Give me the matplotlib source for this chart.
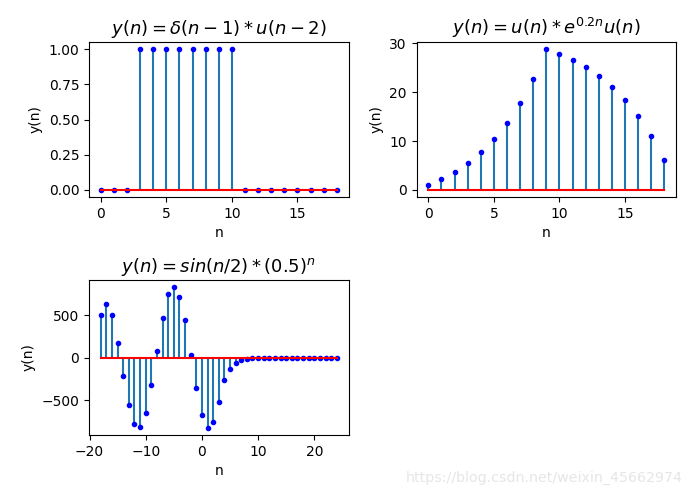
import matplotlib
matplotlib.use("Agg")
import matplotlib.pyplot as plt
import numpy as np

# Plot 1 data
n1 = list(range(0, 19))
y1 = [0, 0, 0, 1, 1, 1, 1, 1, 1, 1, 1, 0, 0, 0, 0, 0, 0, 0, 0]

# Plot 2 data
n2 = list(range(0, 19))
y2 = [1.0, 2.22, 3.71, 5.53, 7.76, 10.47, 13.79, 17.84, 22.79, 28.84,
      27.84, 26.62, 25.13, 23.31, 21.09, 18.37, 15.05, 10.99, 6.05]

# Plot 3 data
n3 = list(range(-18, 25))
y3 = [500, 628, 500, 172, -218, -558, -784, -815, -647, -320,
      82, 464, 745, 831, 714, 441, 35, -359, -671, -827,
      -761, -523, -257, -129, -66, -27, -12, -5, -2, -1,
      0, 0, 0, 0, 0, 0, 0, 0, 0, 0, 0, 0, 0]

fig = plt.figure(figsize=(6.92, 4.97), dpi=100)
fig.subplots_adjust(left=0.1286, right=0.977, top=0.9155, bottom=0.1247,
                    wspace=0.262, hspace=0.535)

title_fs = 13

ax1 = fig.add_subplot(2, 2, 1)
ax1.stem(n1, y1, markerfmt='b.', basefmt='r-')
ax1.set_title(r'$y(n)=\delta(n-1)*u(n-2)$', fontsize=title_fs)
ax1.set_xlabel('n')
ax1.set_ylabel('y(n)')

ax2 = fig.add_subplot(2, 2, 2)
ax2.stem(n2, y2, markerfmt='b.', basefmt='r-')
ax2.set_title(r'$y(n)=u(n)*e^{0.2n}u(n)$', fontsize=title_fs)
ax2.set_xlabel('n')
ax2.set_ylabel('y(n)')

ax3 = fig.add_subplot(2, 2, 3)
ax3.stem(n3, y3, markerfmt='b.', basefmt='r-')
ax3.set_title(r'$y(n)=sin(n/2)*(0.5)^n$', fontsize=title_fs)
ax3.set_xlabel('n')
ax3.set_ylabel('y(n)')

fig.text(0.986, 0.038, 'https://blog.csdn.net/weixin_45662974', ha='right', va='center',
         color='#e6e6e6', fontsize=10.3)

fig.savefig('out.png', dpi=100)
